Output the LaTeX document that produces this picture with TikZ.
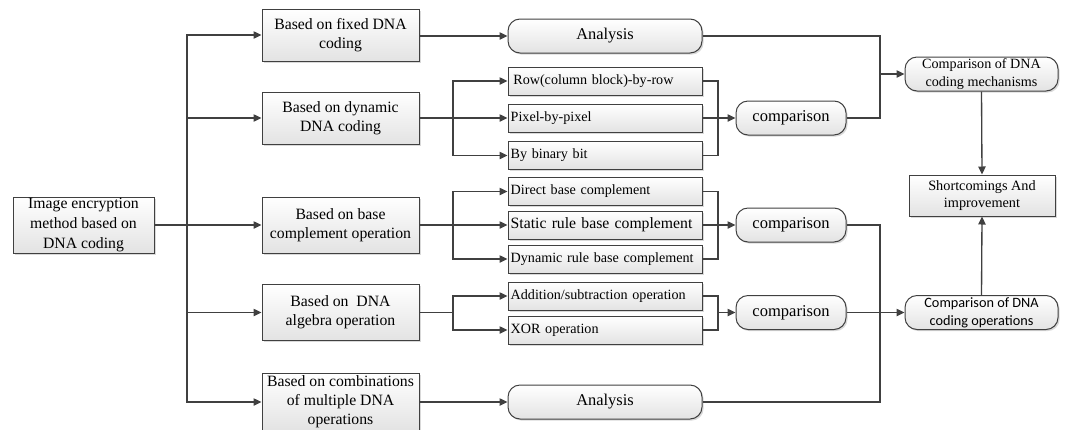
\documentclass[tikz,border=0pt]{standalone}
\usepackage{fontspec}
\setmainfont{Liberation Serif}
\newfontfamily\carl{Carlito}
\usetikzlibrary{shadows,arrows.meta}
\definecolor{ln}{HTML}{404040}
\begin{document}
\begin{tikzpicture}[x=0.75pt,y=-0.75pt,
 boxbase/.style={draw=ln,line width=0.75pt,top color=white,bottom color=gray!22,
   drop shadow={shadow xshift=1.2pt,shadow yshift=-1.2pt,fill=gray!50,opacity=0.6},
   inner sep=1pt,align=center},
 bigf/.style={font=\fontsize{11.8}{14.2}\selectfont},
 smf/.style={font=\fontsize{10.6}{13}\selectfont},
 mainbox/.style={boxbase,bigf,minimum width=117.75pt},
 subbox/.style={boxbase,smf,minimum height=21pt,text width=141.5pt,align=left,inner xsep=2pt},
 rbox/.style={boxbase,rounded corners=9pt,minimum height=25.5pt},
 lin/.style={draw=ln,line width=1pt},
 arr/.style={lin,-{Triangle[length=6pt,width=5.5pt]}}
]
\useasboundingbox (0,0) rectangle (1066,429);
% left source
\node[boxbase,font=\fontsize{11.8}{14.8}\selectfont,minimum width=105.75pt,minimum height=42pt,inner ysep=0pt] (src) at (83.5,225) {Image encryption\\method based on\\DNA coding};
% second column
\node[mainbox,minimum height=39pt] (fixed) at (340.5,35) {Based on fixed DNA\\coding};
\node[mainbox,minimum height=39pt] (dyn) at (340.5,118) {Based on dynamic\\DNA coding};
\node[mainbox,minimum height=42pt] (bc) at (340.5,225) {Based on base\\complement operation};
\node[mainbox,minimum height=42pt] (alg) at (340.5,312.5) {Based on~ DNA\\algebra operation};
\node[mainbox,minimum height=43.5pt,inner ysep=0pt] (comb) at (340.5,402) {Based on combinations\\of multiple DNA\\operations};
% third column
\node[rbox,font=\fontsize{12.3}{14}\selectfont,minimum width=145.5pt] (an1) at (605,36) {Analysis};
\node[subbox] (row) at (605,81) {\hspace{2pt}Row(column block)-by-row};
\node[subbox] (pix) at (605,118) {Pixel-by-pixel};
\node[subbox] (bin) at (605,155.5) {By binary bit};
\node[subbox] (direct) at (605,191.5) {Direct base complement};
\node[subbox,font=\fontsize{11.8}{14}\selectfont] (static) at (605,225) {Static rule base complement};
\node[subbox] (drule) at (605,259) {Dynamic rule base complement};
\node[subbox] (add) at (605,296) {Addition/subtraction operation};
\node[subbox] (xor) at (605,330) {XOR operation};
\node[rbox,font=\fontsize{12.3}{14}\selectfont,minimum width=145.5pt] (an2) at (605,402) {Analysis};
% comparisons
\node[rbox,font=\fontsize{12.4}{14}\selectfont,minimum width=82.5pt] (cmp1) at (791,118) {comparison};
\node[rbox,font=\fontsize{12.4}{14}\selectfont,minimum width=82.5pt] (cmp2) at (791,225) {comparison};
\node[rbox,font=\fontsize{12.4}{14}\selectfont,minimum width=82.5pt] (cmp3) at (791,312.5) {comparison};
% right column
\node[rbox,font=\fontsize{10.6}{13.3}\selectfont,minimum width=114.75pt,inner ysep=0pt] (mech) at (981.5,74) {Comparison of DNA\\coding mechanisms};
\node[boxbase,font=\fontsize{10.7}{12.8}\selectfont,minimum width=109.5pt,minimum height=30.75pt] (short) at (982,195.5) {Shortcomings And\\improvement};
\node[rbox,font=\carl\fontsize{10.7}{13.3}\selectfont,minimum width=114.75pt,inner ysep=0pt] (ops) at (981.5,312.5) {Comparison of DNA\\coding operations};
% helper coordinates
\coordinate (t) at (187,225);
\coordinate (b) at (453,0);
\coordinate (r) at (718,0);
\coordinate (j) at (880,0);
% trunk
\draw[arr] (src.east) -- (bc.west);
\draw[arr] (t) |- (fixed.west);
\draw[arr] (t) |- (dyn.west);
\draw[arr] (t) |- (alg.west);
\draw[arr] (t) |- (comb.west);
% dynamic branch
\draw[arr] (dyn.east) -- (pix.west);
\draw[arr] (b |- dyn.east) |- (row.west);
\draw[arr] (b |- dyn.east) |- (bin.west);
% base complement branch
\draw[arr] (bc.east) -- (static.west);
\draw[arr] (b |- bc.east) |- (direct.west);
\draw[arr] (b |- bc.east) |- (drule.west);
% algebra branch
\draw[lin] (alg.east) -- (b |- alg.east);
\draw[arr] (b |- alg.east) |- (add.west);
\draw[arr] (b |- alg.east) |- (xor.west);
% fixed / combos
\draw[arr] (fixed.east |- an1.west) -- (an1.west);
\draw[arr] (comb.east |- an2.west) -- (an2.west);
% right brackets
\draw[lin] (row.east) -| (r |- bin.east) -- (bin.east);
\draw[arr] (pix.east) -- (cmp1.west);
\draw[lin] (direct.east) -| (r |- drule.east) -- (drule.east);
\draw[arr] (static.east) -- (cmp2.west);
\draw[lin] (add.east) -| (r |- xor.east) -- (xor.east);
\draw[arr] (r |- cmp3.west) -- (cmp3.west);
% to right column
\draw[arr] (an1.east) -| (j |- mech.west) -- (mech.west);
\draw[lin] (cmp1.east) -| (j |- mech.west);
\draw[lin] (cmp2.east) -| (j |- an2.east) -- (an2.east);
\draw[arr] (cmp3.east) -- (ops.west);
\draw[arr] (mech.south) -- (short.north);
\draw[arr] (ops.north) -- (short.south);
\end{tikzpicture}
\end{document}
